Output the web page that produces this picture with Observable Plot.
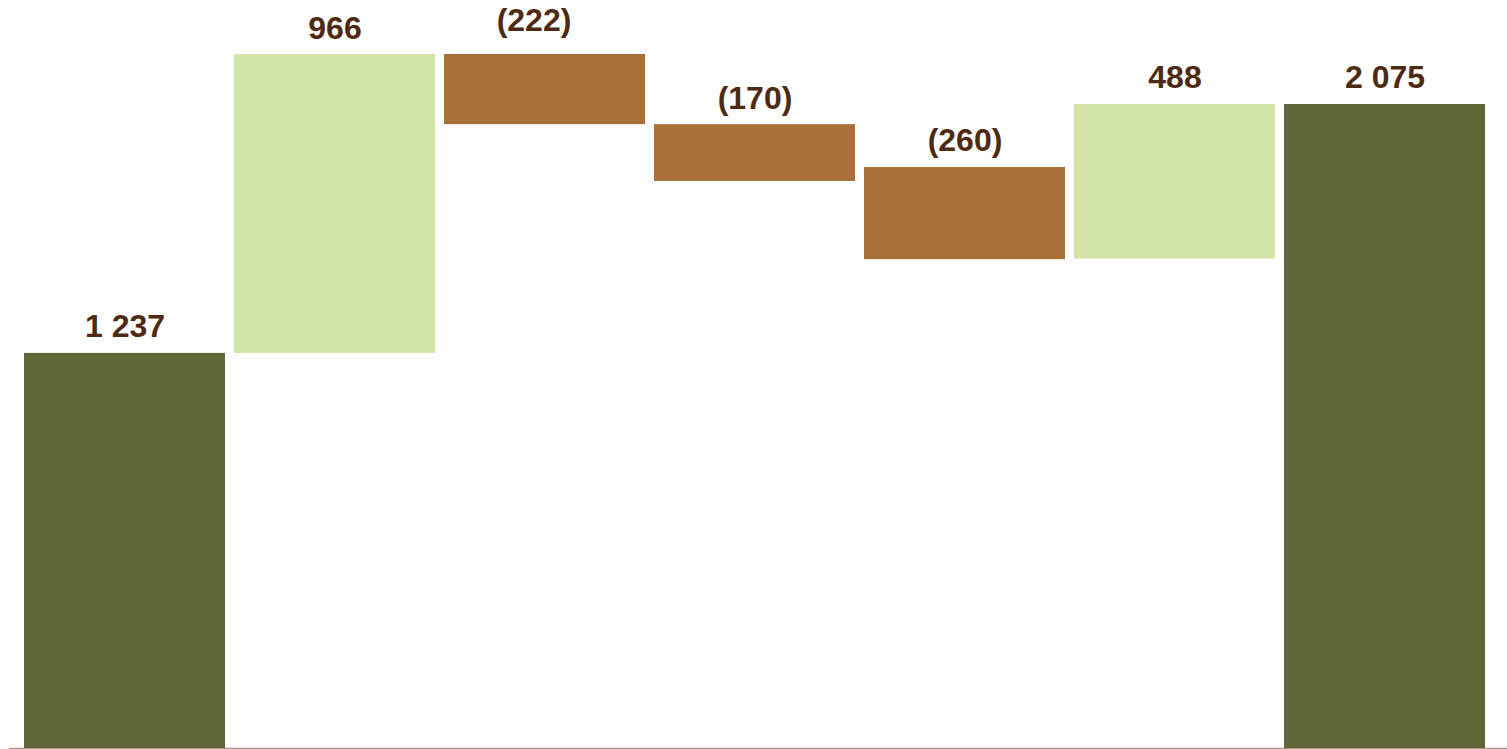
<!DOCTYPE html>
<html>
<head>
<meta charset="utf-8">
<script src="https://cdn.jsdelivr.net/npm/d3@7"></script>
<script src="https://cdn.jsdelivr.net/npm/@observablehq/plot@0.6"></script>
<style>
  html, body { margin: 0; padding: 0; background: #ffffff; }
  #chart svg { display: block; }
</style>
</head>
<body>
<div id="chart"></div>
<script>
// Waterfall steps (bar start/end)
const categories = ["Start", "Step 1", "Step 2", "Step 3", "Step 4", "Step 5", "End"];
const barStart   = [0,    1273, 2236, 2010, 1872, 1577, 0];
const barEnd     = [1273, 2236, 2010, 1827, 1575, 2075, 2075];
const kinds      = ["total", "up", "down", "down", "down", "up", "total"];
const labels     = ["1 237", "966", "(222)", "(170)", "(260)", "488", "2 075"];

const colors = { total: "#5f6638", up: "#d2e4a6", down: "#aa7039" };

const rows = categories.map((c, i) => ({
  cat: c,
  y1: barStart[i],
  y2: barEnd[i],
  top: Math.max(barStart[i], barEnd[i]),
  kind: kinds[i],
  label: labels[i]
}));

// a label that sits on a bar reaching the top of the frame is nudged up/left (as in the source)
const topValue = d3.max(rows, (d) => d.top);
const isTopDown = (d) => d.top === topValue && d.kind === "down";

const labelStyle = { fill: "#4e2a13", fontSize: 32, fontWeight: "bold", lineAnchor: "bottom" };

const chart = Plot.plot({
  width: 1507,
  height: 749,
  marginLeft: 14,
  marginRight: 12,
  marginTop: 0,
  marginBottom: 1,
  style: { background: "#ffffff", fontFamily: "'Liberation Sans', Arial, sans-serif" },
  x: { domain: categories, padding: 0.045, axis: null },
  y: { domain: [0, 2410], axis: null, nice: false },
  marks: [
    Plot.rectY(rows, { x: "cat", y1: "y1", y2: "y2", fill: (d) => colors[d.kind] }),
    Plot.ruleY([0], { stroke: "#5a3217", strokeOpacity: 0.5, strokeWidth: 1.5, insetLeft: -5, insetRight: -12 }),
    Plot.text(rows.filter((d) => !isTopDown(d)), { x: "cat", y: "top", text: "label", dy: -16, ...labelStyle }),
    Plot.text(rows.filter(isTopDown), { x: "cat", y: "top", text: "label", dy: -24, dx: -11, ...labelStyle })
  ]
});

document.getElementById("chart").appendChild(chart);
</script>
</body>
</html>
